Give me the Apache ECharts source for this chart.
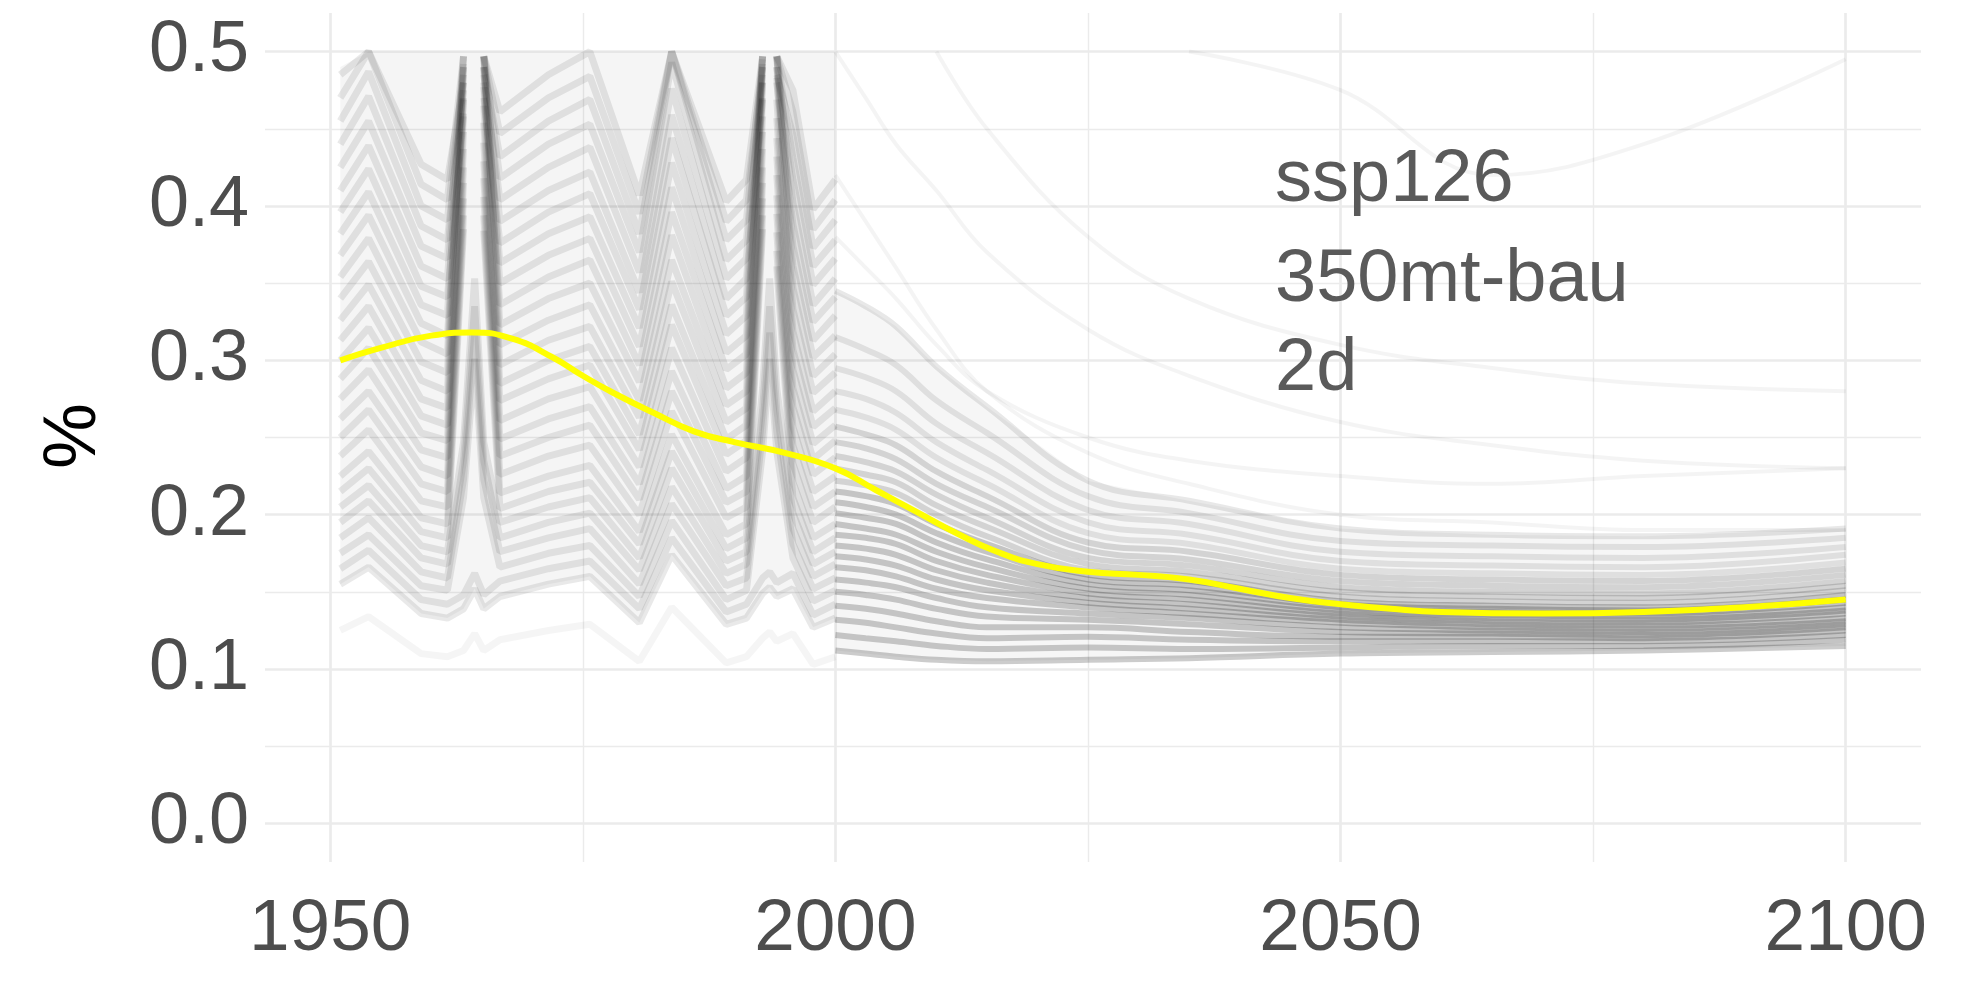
<!DOCTYPE html>
<html>
<head>
<meta charset="utf-8">
<script src="https://cdn.jsdelivr.net/npm/echarts@6/dist/echarts.min.js"></script>
<style>
  html, body { margin: 0; padding: 0; background: #fff; }
  #chart { width: 1972px; height: 981px; }
</style>
</head>
<body>
<div id="chart"></div>
<script>
// ---- data ----
// historical runs: key years (cusps / spikes of the fan)
const HIST_YEARS = [1951, 1953.8, 1959, 1961.6, 1963.2, 1964.3, 1965.2, 1966.8, 1971.6, 1975.7, 1980.6, 1983.8, 1989.2, 1991.2, 1992.8, 1993.5, 1994.2, 1995.8, 1997.8, 2000];
// one row per run, null = above 0.5 (dropped like in the original)
const HIST_RUNS = [
  [0.125, 0.134, 0.110, 0.108, 0.112, 0.123, 0.112, 0.119, 0.125, 0.129, 0.105, 0.140, 0.104, 0.108, 0.120, 0.124, 0.118, 0.123, 0.103, 0.108],
  [0.155, 0.166, 0.136, 0.133, 0.139, 0.152, 0.139, 0.147, 0.155, 0.160, 0.130, 0.174, 0.129, 0.133, 0.149, 0.153, 0.147, 0.152, 0.127, 0.133],
  [0.165, 0.177, 0.145, 0.142, 0.148, 0.162, 0.148, 0.157, 0.165, 0.170, 0.139, 0.185, 0.137, 0.142, 0.159, 0.163, 0.156, 0.162, 0.135, 0.142],
  [0.175, 0.187, 0.154, 0.151, 0.211, 0.301, 0.211, 0.166, 0.175, 0.180, 0.147, 0.196, 0.145, 0.151, 0.241, 0.301, 0.241, 0.172, 0.144, 0.151],
  [0.185, 0.198, 0.163, 0.159, 0.223, 0.318, 0.223, 0.176, 0.185, 0.191, 0.155, 0.207, 0.154, 0.159, 0.254, 0.318, 0.254, 0.181, 0.152, 0.159],
  [0.195, 0.209, 0.172, 0.168, 0.235, 0.335, 0.235, 0.185, 0.195, 0.201, 0.164, 0.218, 0.162, 0.168, 0.268, 0.335, 0.268, 0.191, 0.160, 0.168],
  [0.205, 0.219, 0.180, 0.176, 0.247, 0.353, 0.247, 0.195, 0.205, 0.211, 0.172, 0.230, 0.170, 0.176, 0.282, 0.353, 0.282, 0.201, 0.168, 0.176],
  [0.215, 0.230, 0.189, 0.185, 0.385, null, 0.384, 0.204, 0.215, 0.221, 0.181, 0.241, 0.178, 0.185, 0.385, null, 0.361, 0.211, 0.176, 0.185],
  [0.225, 0.241, 0.198, 0.194, 0.394, null, 0.394, 0.214, 0.225, 0.232, 0.189, 0.252, 0.187, 0.194, 0.394, null, 0.371, 0.221, 0.185, 0.194],
  [0.238, 0.255, 0.209, 0.205, 0.405, null, 0.406, 0.226, 0.238, 0.245, 0.200, 0.267, 0.198, 0.205, 0.405, null, 0.383, 0.233, 0.195, 0.205],
  [0.250, 0.268, 0.220, 0.215, 0.415, null, 0.418, 0.238, 0.250, 0.258, 0.210, 0.280, 0.208, 0.215, 0.415, null, 0.395, 0.245, 0.205, 0.215],
  [0.262, 0.280, 0.231, 0.225, 0.425, null, 0.429, 0.249, 0.262, 0.270, 0.220, 0.293, 0.217, 0.225, 0.425, null, 0.407, 0.257, 0.215, 0.225],
  [0.275, 0.294, 0.242, 0.237, 0.437, null, 0.441, 0.261, 0.275, 0.283, 0.231, 0.308, 0.228, 0.237, 0.437, null, 0.420, 0.270, 0.226, 0.237],
  [0.288, 0.308, 0.253, 0.248, 0.448, null, 0.454, 0.274, 0.288, 0.297, 0.242, 0.323, 0.239, 0.248, 0.448, null, 0.432, 0.282, 0.236, 0.248],
  [0.300, 0.321, 0.264, 0.258, 0.458, null, 0.465, 0.285, 0.300, 0.309, 0.252, 0.336, 0.249, 0.258, 0.458, null, 0.444, 0.294, 0.246, 0.258],
  [0.313, 0.335, 0.275, 0.269, 0.469, null, 0.477, 0.297, 0.313, 0.322, 0.263, 0.351, 0.260, 0.269, 0.469, null, 0.457, 0.307, 0.257, 0.269],
  [0.326, 0.349, 0.287, 0.280, 0.480, null, 0.490, 0.310, 0.326, 0.336, 0.274, 0.365, 0.271, 0.280, 0.480, null, 0.469, 0.319, 0.267, 0.280],
  [0.340, 0.364, 0.299, 0.292, 0.492, null, 0.497, 0.323, 0.340, 0.350, 0.286, 0.381, 0.282, 0.292, 0.492, null, 0.483, 0.333, 0.279, 0.292],
  [0.354, 0.379, 0.312, 0.304, 0.490, null, 0.480, 0.336, 0.354, 0.365, 0.297, 0.396, 0.294, 0.304, 0.497, null, 0.497, 0.347, 0.290, 0.304],
  [0.368, 0.394, 0.324, 0.316, 0.470, null, 0.497, 0.350, 0.368, 0.379, 0.309, 0.412, 0.305, 0.316, 0.480, null, 0.490, 0.361, 0.302, 0.316],
  [0.382, 0.409, 0.336, 0.329, 0.497, null, 0.490, 0.363, 0.382, 0.393, 0.321, 0.428, 0.317, 0.329, 0.490, null, 0.497, 0.374, 0.313, 0.329],
  [0.396, 0.424, 0.348, 0.341, 0.460, null, 0.470, 0.376, 0.396, 0.408, 0.333, 0.444, 0.329, 0.341, 0.497, null, 0.480, 0.388, 0.325, 0.341],
  [0.410, 0.439, 0.361, 0.353, 0.485, null, 0.497, 0.390, 0.410, 0.422, 0.344, 0.459, 0.340, 0.353, 0.470, null, 0.497, 0.402, 0.336, 0.353],
  [0.425, 0.455, 0.374, 0.366, 0.497, null, 0.485, 0.404, 0.425, 0.438, 0.357, 0.476, 0.353, 0.366, 0.495, null, 0.490, 0.417, 0.349, 0.366],
  [0.440, 0.471, 0.387, 0.378, 0.475, null, 0.497, 0.418, 0.440, 0.453, 0.370, 0.493, 0.365, 0.378, 0.485, null, 0.497, 0.431, 0.361, 0.378],
  [0.455, 0.487, 0.400, 0.391, 0.490, null, 0.490, 0.432, 0.455, 0.469, 0.382, 0.500, 0.378, 0.391, 0.497, null, 0.485, 0.446, 0.373, 0.391],
  [0.470, 0.500, 0.414, 0.404, 0.497, null, 0.497, 0.447, 0.470, 0.484, 0.395, 0.500, 0.390, 0.404, 0.490, null, 0.497, 0.461, 0.385, 0.404],
  [0.485, 0.500, 0.427, 0.417, 0.480, null, 0.497, 0.461, 0.485, 0.500, 0.407, 0.500, 0.403, 0.417, 0.497, null, 0.497, 0.475, 0.398, 0.417]
];
// upper edge of the historical fan
const HIST_TOP = [0.490, 0.500, 0.500, 0.500, 0.500, 0.500, 0.500, 0.500, 0.500, 0.500, 0.500, 0.500, 0.500, 0.500, 0.500, 0.500, 0.500, 0.500, 0.500, 0.500];

// scenario runs 2000-2100
const FUT_YEARS = [2000, 2003, 2006, 2010, 2015, 2025, 2035, 2050, 2065, 2080, 2100];
const FUT_RUNS = [
  [0.112, 0.110, 0.108, 0.106, 0.105, 0.106, 0.107, 0.110, 0.111, 0.112, 0.115],
  [0.122, 0.120, 0.118, 0.115, 0.113, 0.114, 0.113, 0.114, 0.115, 0.115, 0.119],
  [0.132, 0.130, 0.127, 0.123, 0.120, 0.121, 0.119, 0.118, 0.118, 0.118, 0.122],
  [0.141, 0.139, 0.136, 0.131, 0.127, 0.127, 0.124, 0.121, 0.121, 0.120, 0.125],
  [0.150, 0.148, 0.145, 0.139, 0.134, 0.132, 0.129, 0.124, 0.123, 0.122, 0.127],
  [0.158, 0.156, 0.153, 0.146, 0.140, 0.136, 0.133, 0.127, 0.125, 0.124, 0.129],
  [0.166, 0.164, 0.160, 0.152, 0.146, 0.140, 0.136, 0.130, 0.127, 0.126, 0.131],
  [0.173, 0.171, 0.167, 0.158, 0.151, 0.143, 0.139, 0.132, 0.129, 0.128, 0.133],
  [0.180, 0.178, 0.174, 0.164, 0.156, 0.146, 0.142, 0.134, 0.131, 0.130, 0.136],
  [0.187, 0.185, 0.181, 0.170, 0.161, 0.149, 0.145, 0.136, 0.133, 0.132, 0.138],
  [0.194, 0.191, 0.187, 0.176, 0.166, 0.152, 0.148, 0.138, 0.135, 0.134, 0.140],
  [0.201, 0.198, 0.194, 0.182, 0.171, 0.155, 0.151, 0.140, 0.137, 0.136, 0.143],
  [0.208, 0.205, 0.200, 0.188, 0.176, 0.158, 0.154, 0.142, 0.139, 0.138, 0.145],
  [0.215, 0.212, 0.207, 0.194, 0.181, 0.161, 0.157, 0.144, 0.141, 0.140, 0.148],
  [0.222, 0.219, 0.214, 0.200, 0.186, 0.164, 0.160, 0.147, 0.144, 0.143, 0.151],
  [0.230, 0.226, 0.221, 0.206, 0.192, 0.168, 0.163, 0.150, 0.147, 0.146, 0.154],
  [0.238, 0.234, 0.228, 0.213, 0.198, 0.172, 0.167, 0.153, 0.150, 0.149, 0.157],
  [0.247, 0.243, 0.236, 0.220, 0.205, 0.177, 0.171, 0.157, 0.154, 0.153, 0.161],
  [0.257, 0.252, 0.245, 0.228, 0.212, 0.182, 0.176, 0.161, 0.158, 0.157, 0.165],
  [0.268, 0.263, 0.255, 0.237, 0.220, 0.188, 0.181, 0.165, 0.162, 0.161, 0.169],
  [0.280, 0.275, 0.266, 0.247, 0.229, 0.195, 0.187, 0.170, 0.167, 0.166, 0.174],
  [0.295, 0.289, 0.280, 0.259, 0.240, 0.203, 0.194, 0.176, 0.173, 0.172, 0.179],
  [0.315, 0.307, 0.297, 0.274, 0.253, 0.212, 0.201, 0.183, 0.180, 0.179, 0.185],
  [0.345, 0.335, 0.322, 0.296, 0.270, 0.222, 0.209, 0.191, 0.187, 0.186, 0.191]
];
// a few faint outlier runs high above the bundle
const FUT_STRAYS = [
  [0.500, 0.470, 0.440, 0.410, 0.370, 0.320, 0.290, 0.260, 0.245, 0.235, 0.230],
  [null, null, null, null, null, null, 0.500, 0.475, 0.420, 0.440, 0.495],
  [0.420, 0.390, 0.360, 0.320, 0.280, 0.240, 0.220, 0.200, 0.195, 0.190, 0.190],
  [null, null, null, 0.500, 0.450, 0.380, 0.340, 0.310, 0.295, 0.285, 0.280],
  [0.380, 0.360, 0.340, 0.310, 0.280, 0.250, 0.235, 0.225, 0.220, 0.225, 0.230]
];

// smoothed mean (yellow)
const MEAN_YEARS = [1951, 1955, 1960, 1964, 1968, 1972, 1975, 1978, 1982, 1986, 1990, 1995, 2000, 2004, 2008, 2012, 2016, 2020, 2025, 2030, 2035, 2040, 2045, 2050, 2055, 2060, 2070, 2080, 2090, 2100];
const MEAN_VALUES = [0.300, 0.308, 0.316, 0.318, 0.314, 0.302, 0.290, 0.279, 0.266, 0.254, 0.247, 0.240, 0.230, 0.216, 0.202, 0.188, 0.176, 0.168, 0.163, 0.161, 0.158, 0.152, 0.146, 0.142, 0.139, 0.137, 0.136, 0.137, 0.140, 0.145];

// axes
const X_MAJOR = [1950, 2000, 2050, 2100];
const X_MINOR = [1975, 2025, 2075];
const Y_MAJOR = [0, 0.1, 0.2, 0.3, 0.4, 0.5];
const Y_MINOR = [0.05, 0.15, 0.25, 0.35, 0.45];
const ANNOTATION = ['ssp126', '350mt-bau', '2d'];

// ---- chart ----
const FONT = '"Liberation Sans", Arial, Helvetica, sans-serif';
const chart = echarts.init(document.getElementById('chart'));

const pair = (xs, ys) => xs.map((x, i) => [x, ys[i] == null ? '-' : ys[i]]);

function runSeries(xs, run, style, z, smooth) {
  return {
    type: 'line', data: pair(xs, run), symbol: 'none', silent: true, z: z,
    smooth: smooth, lineStyle: style, emphasis: { disabled: true }
  };
}

// light fill under the bundle of runs (polygon through the axis scales)
function bandSeries(xs, lo, hi, color, z) {
  return {
    type: 'custom', silent: true, z: z,
    data: [[xs[0], lo[0]]],
    renderItem: (params, api) => {
      const top = xs.map((x, i) => api.coord([x, hi[i]]));
      const bottom = xs.map((x, i) => api.coord([x, lo[i]])).reverse();
      return { type: 'polygon', shape: { points: top.concat(bottom) }, style: { fill: color } };
    }
  };
}

const gridMarks = [
  ...Y_MAJOR.map(v => ({ yAxis: v, lineStyle: { color: '#ebebeb', width: 2.7, type: 'solid' } })),
  ...Y_MINOR.map(v => ({ yAxis: v, lineStyle: { color: '#ebebeb', width: 1.4, type: 'solid' } })),
  ...X_MAJOR.map(v => ({ xAxis: v, lineStyle: { color: '#ebebeb', width: 2.7, type: 'solid' } })),
  ...X_MINOR.map(v => ({ xAxis: v, lineStyle: { color: '#ebebeb', width: 1.4, type: 'solid' } }))
];

// historical runs: the lowest one is a lone faint line
const histStyle = i => ({ color: '#000', width: 7, opacity: i === 0 ? 0.04 : 0.085 });
// scenario runs: the dense core darker, the upper runs lighter
const futStyle = i => ({ color: '#000', width: 6, opacity: i < 14 ? 0.2 : (i < 19 ? 0.14 : 0.09) });

const series = [
  { type: 'line', data: [], silent: true, z: 0,
    markLine: { z: 0, silent: true, symbol: ['none', 'none'], animation: false, label: { show: false },
      lineStyle: { type: 'solid' }, emphasis: { disabled: true }, data: gridMarks } },
  bandSeries(HIST_YEARS, HIST_RUNS[1], HIST_TOP, 'rgba(0,0,0,0.04)', 2),
  bandSeries(FUT_YEARS, FUT_RUNS[0], FUT_RUNS[FUT_RUNS.length - 1], 'rgba(0,0,0,0.035)', 2),
  ...HIST_RUNS.map((r, i) => runSeries(HIST_YEARS, r, histStyle(i), 3, false)),
  ...FUT_RUNS.map((r, i) => runSeries(FUT_YEARS, r, futStyle(i), 3, 0.4)),
  ...FUT_STRAYS.map(r => runSeries(FUT_YEARS, r, { color: '#000', width: 4, opacity: 0.045 }, 3, 0.4)),
  { type: 'line', data: pair(MEAN_YEARS, MEAN_VALUES), symbol: 'none', smooth: true, silent: true, z: 5,
    lineStyle: { color: '#ffff00', width: 6 }, emphasis: { disabled: true } }
];

chart.setOption({
  animation: false,
  backgroundColor: '#ffffff',
  grid: { left: 265, right: 51, top: 13, bottom: 119, containLabel: false, outerBoundsMode: 'none' },
  xAxis: {
    type: 'value', min: 1943.55, max: 2107.45,
    axisLine: { show: false }, axisTick: { show: false }, splitLine: { show: false },
    axisLabel: {
      customValues: X_MAJOR, margin: 31, color: '#4d4d4d', fontSize: 73, lineHeight: 73,
      fontFamily: FONT, formatter: v => String(v)
    }
  },
  yAxis: {
    type: 'value', min: -0.025, max: 0.525,
    axisLine: { show: false }, axisTick: { show: false }, splitLine: { show: false },
    axisLabel: {
      customValues: Y_MAJOR, margin: 16, color: '#4d4d4d', fontSize: 72,
      fontFamily: FONT, formatter: v => v.toFixed(1)
    }
  },
  graphic: [
    { type: 'text', x: 75, y: 436, rotation: Math.PI / 2, silent: true,
      style: { text: '%', fontSize: 74, fontFamily: FONT, fill: '#000000',
        align: 'center', verticalAlign: 'middle', textAlign: 'center', textVerticalAlign: 'middle' } },
    ...ANNOTATION.map((t, i) => ({
      type: 'text', x: 1275, y: [181, 281, 370][i], silent: true, z: 10,
      style: { text: t, fontSize: 74, fontFamily: FONT, fill: '#5a5a5a',
        align: 'left', verticalAlign: 'middle', textAlign: 'left', textVerticalAlign: 'middle' }
    }))
  ],
  series: series
});

window.addEventListener('resize', () => chart.resize());
</script>
</body>
</html>
